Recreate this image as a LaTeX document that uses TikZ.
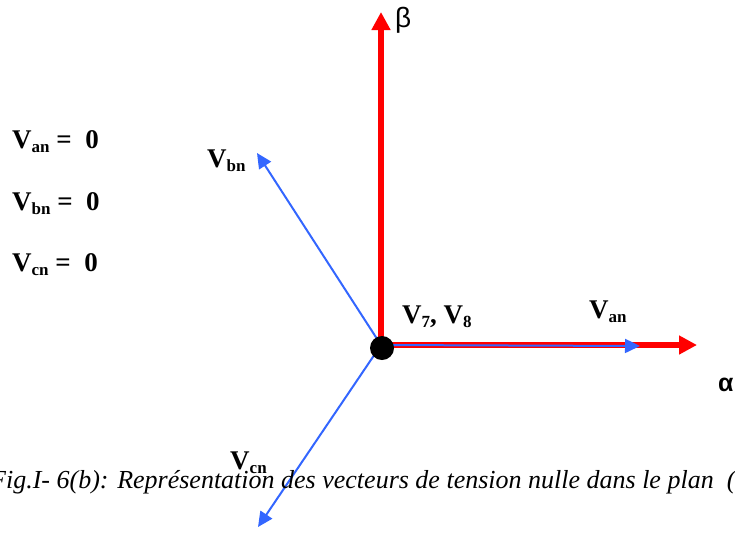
\documentclass[tikz,border=0pt]{standalone}
\usepackage{fontspec}
\setmainfont{Liberation Serif}
\newfontfamily\greekfont{Liberation Sans}
\usetikzlibrary{arrows.meta}

\definecolor{vecblue}{RGB}{51,102,255}
\newcommand{\vsub}[2]{#1\raisebox{-4pt}{\fontsize{17}{17}\selectfont #2}}

\begin{document}
\begin{tikzpicture}[x=1pt, y=-1pt,
    axis/.style={draw=red, line width=6pt, -{Triangle[length=18pt, width=18pt]}},
    vec/.style={draw=vecblue, line width=2pt, -{Triangle[length=15pt, width=14pt]}},
    lbl/.style={font=\fontsize{27}{27}\selectfont\bfseries, inner sep=0pt, anchor=base west},
    dot/.style={circle, fill=black, minimum size=24pt, inner sep=0pt}]
    \clip (0,0) rectangle (735,536);

    % Origin and end points
    \coordinate (O) at (381,345);
    \coordinate (alpha) at (697,345);
    \coordinate (beta) at (381,12);
    \coordinate (an) at (640,346);
    \coordinate (bn) at (257,153);
    \coordinate (cn) at (258,527);

    % Axes
    \draw[axis] (O) -- (alpha);
    \draw[axis] (O) -- (beta);
    \node[anchor=base west, inner sep=0pt, font=\greekfont\fontsize{28}{28}\selectfont] (betalbl) at (395,27) {β};
    \node[anchor=base west, inner sep=0pt, font=\greekfont\bfseries\fontsize{25}{25}\selectfont] (alphalbl) at (718,391) {α};

    % Phase vectors
    \draw[vec] (O) -- (an);
    \draw[vec] (O) -- (bn);
    \draw[vec] (O) -- (cn);
    \node[dot] (zero) at (382,348) {};

    % Vector labels
    \node[lbl] (anlbl) at (589,318) {\vsub{V}{an}};
    \node[lbl] (bnlbl) at (207,167) {\vsub{V}{bn}};
    \node[lbl] (cnlbl) at (230,469) {\vsub{V}{cn}};
    \node[lbl] (zerolbl) at (402,323) {\vsub{V}{7}, \vsub{V}{8}};

    % Phase voltages
    \node[lbl] (eqan) at (12,148) {\vsub{V}{an} = \ 0};
    \node[lbl] (eqbn) at (12,210) {\vsub{V}{bn} = \ 0};
    \node[lbl] (eqcn) at (12,271) {\vsub{V}{cn} = \ 0};

    % Caption
    \node[anchor=base west, inner sep=0pt, font=\fontsize{26}{26}\selectfont\itshape] (caption) at (-10,488)
        {Fig.I- 6(b): Représentation des vecteurs de tension nulle dans le plan \ (α, β)};
\end{tikzpicture}
\end{document}
